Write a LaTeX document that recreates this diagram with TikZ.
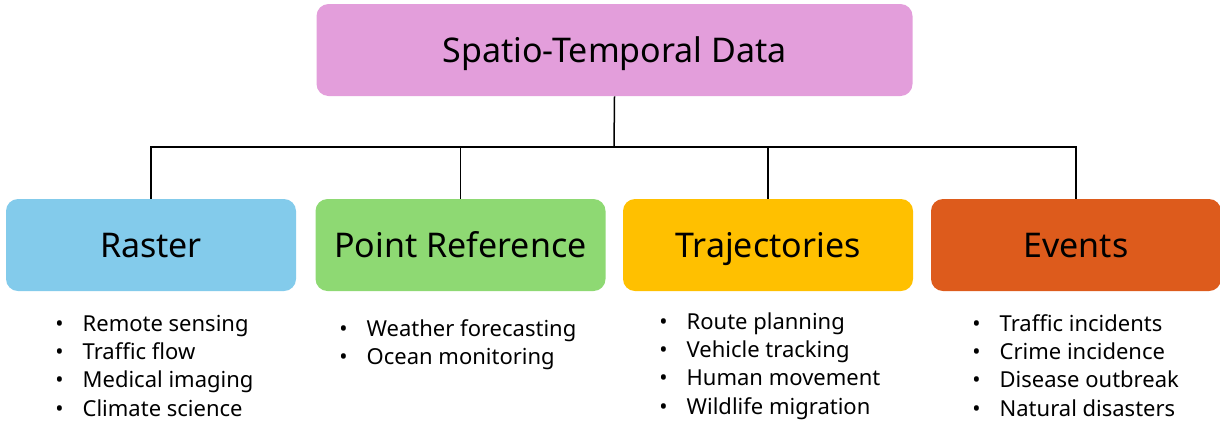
\documentclass[tikz,border=0pt]{standalone}
\usepackage{fontspec}
\setmainfont{Noto Sans}
\usetikzlibrary{positioning}

\definecolor{toppink}{HTML}{E39EDB}
\definecolor{rasterblue}{HTML}{83CBEB}
\definecolor{pointgreen}{HTML}{8ED973}
\definecolor{trajyellow}{HTML}{FFC000}
\definecolor{eventorange}{HTML}{DD5B1C}

\newcommand{\uselist}[1]{%
  \begin{tabular}[t]{@{}l@{\hspace{9.5pt}}l@{}}#1\end{tabular}}

\begin{document}
\begin{tikzpicture}[x=0.5pt,y=-0.5pt]

      \useasboundingbox (0,0) rectangle (1220,424);

      \begin{scope}[every node/.style={rounded corners=6pt,minimum width=145pt,
          minimum height=46pt,inner sep=0pt,text height=13pt,text depth=1pt,
          font=\fontsize{17}{20}\selectfont}]
        \node[fill=toppink,minimum width=298pt] (data)   at (614.5,50)  {Spatio-Temporal Data};
        \node[fill=rasterblue]                  (raster) at (151,245)   {Raster};
        \node[fill=pointgreen]                  (point)  at (460.5,245) {Point Reference};
        \node[fill=trajyellow]                  (traj)   at (768,245)   {Trajectories};
        \node[fill=eventorange]                 (events) at (1076,245)  {Events};
      \end{scope}

      \begin{scope}[line width=0.75pt]
        \draw (data.south) -- (614,147) coordinate (bus);
        \draw (bus) -| (raster.north);
        \draw (bus) -| (point.north);
        \draw (bus) -| (traj.north);
        \draw (bus) -| (events.north);
      \end{scope}

      \begin{scope}[every node/.style={anchor=base west,inner sep=0pt,
          font=\fontsize{11}{14.2}\selectfont}]
        \node (rasteruse) at (55,331) {\uselist{%
            \textbullet & Remote sensing\\
            \textbullet & Traffic flow\\
            \textbullet & Medical imaging\\
            \textbullet & Climate science}};
        \node (pointuse) at (339,336) {\uselist{%
            \textbullet & Weather forecasting\\
            \textbullet & Ocean monitoring}};
        \node (trajuse) at (659,329) {\uselist{%
            \textbullet & Route planning\\
            \textbullet & Vehicle tracking\\
            \textbullet & Human movement\\
            \textbullet & Wildlife migration}};
        \node (eventsuse) at (972,331) {\uselist{%
            \textbullet & Traffic incidents\\
            \textbullet & Crime incidence\\
            \textbullet & Disease outbreak\\
            \textbullet & Natural disasters}};
      \end{scope}

    \end{tikzpicture}
\end{document}
